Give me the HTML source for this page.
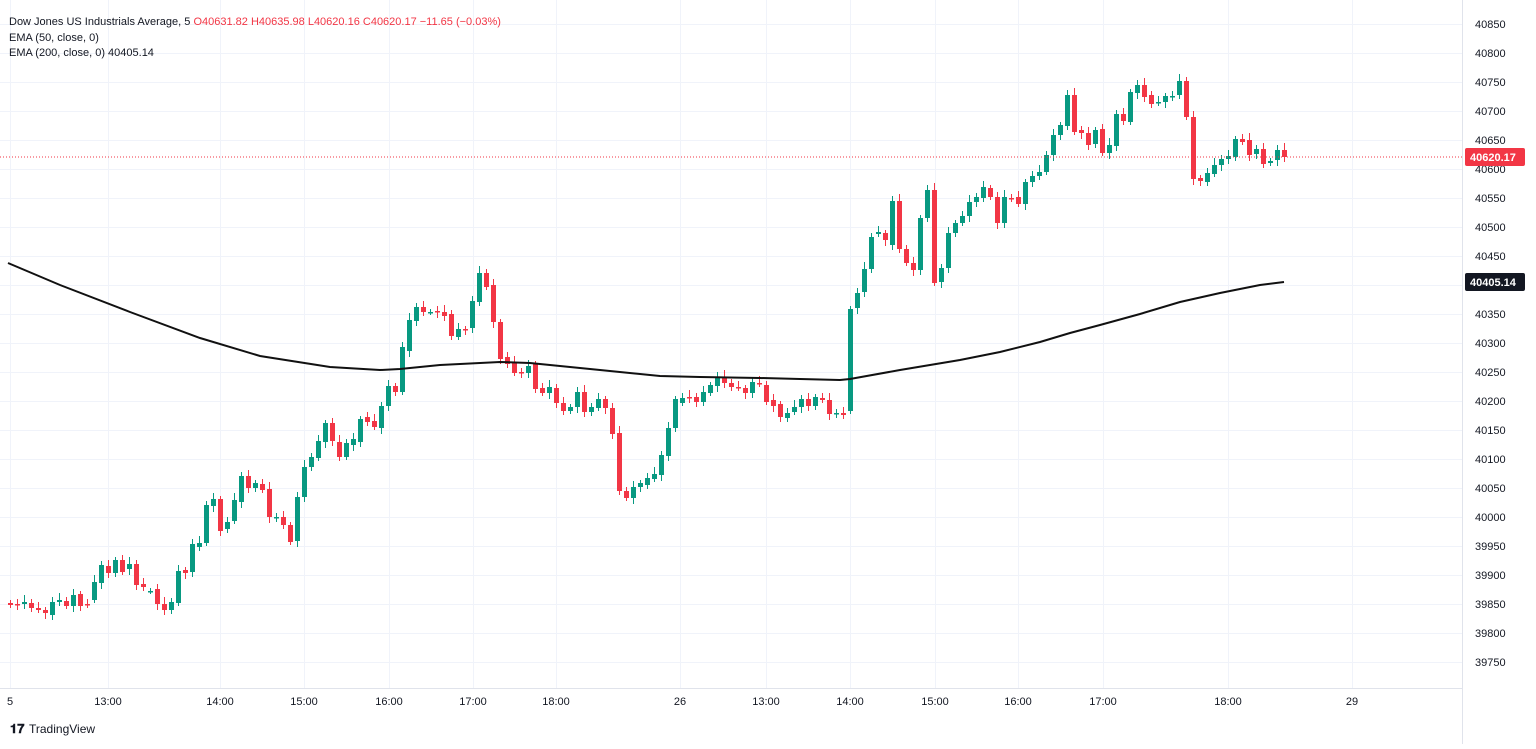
<!DOCTYPE html>
<html><head><meta charset="utf-8"><style>
body{margin:0;background:#fff;width:1536px;height:744px;overflow:hidden;font-family:"Liberation Sans",sans-serif}
svg text{font-family:"Liberation Sans",sans-serif}
</style></head><body>
<svg id="s" width="1536" height="744" xmlns="http://www.w3.org/2000/svg">
<rect width="1536" height="744" fill="#fff"/>
<g id="grid"></g>
<g id="c"></g>
<polyline fill="none" stroke="#111" stroke-width="2" points="8,263 60,285 130,312 200,338 260,356 330,367 380,370 400,369 440,365 500,362 530,363 600,370 660,376 700,377 760,378 800,379 840,380 850,379 900,370 930,365 960,360 1000,352 1040,342 1070,333 1100,325 1140,314 1180,302 1220,293 1260,285 1284,282"/>
<line x1="0" y1="157" x2="1462" y2="157" stroke="#f23645" stroke-width="1" stroke-dasharray="1,2"/>
<line x1="0" y1="688.5" x2="1462" y2="688.5" stroke="#e0e3eb"/>
<line x1="1462.5" y1="0" x2="1462.5" y2="744" stroke="#e0e3eb"/>
<g id="yl" font-size="11" fill="#131722"></g>
<g id="xl" font-size="11" fill="#131722"></g>
<rect x="1465" y="148" width="60" height="18" rx="2" fill="#f23645"/>
<text x="1470" y="161" font-size="11" fill="#fff" font-weight="bold">40620.17</text>
<rect x="1465" y="273" width="60" height="18" rx="2" fill="#131722"/>
<text x="1470" y="286" font-size="11" fill="#fff" font-weight="bold">40405.14</text>
<text x="9" y="25" font-size="11" fill="#131722">Dow Jones US Industrials Average, 5 <tspan fill="#f23645">O40631.82 H40635.98 L40620.16 C40620.17 −11.65 (−0.03%)</tspan></text>
<text x="9" y="41" font-size="11" fill="#131722">EMA (50, close, 0)</text>
<text x="9" y="56" font-size="11" fill="#131722">EMA (200, close, 0)  40405.14</text>
<text x="10" y="733" font-size="13" font-weight="bold" fill="#131722">𝟏𝟕</text>
<text x="29" y="733" font-size="12" fill="#131722">TradingView</text>
</svg>
<script>
var ns="http://www.w3.org/2000/svg";
function el(p,t,a,tx){var e=document.createElementNS(ns,t);for(var k in a)e.setAttribute(k,a[k]);if(tx)e.textContent=tx;document.getElementById(p).appendChild(e);}
for(var k=0;k<=22;k++){var y=24+29*k;el("grid","line",{x1:0,x2:1462,y1:y+.5,y2:y+.5,stroke:"#f0f3fa"});el("yl","text",{x:1475,y:y+4},String(40850-50*k));}
var xs=[[10,"5"],[108,"13:00"],[220,"14:00"],[304,"15:00"],[389,"16:00"],[473,"17:00"],[556,"18:00"],[680,"26"],[766,"13:00"],[850,"14:00"],[935,"15:00"],[1018,"16:00"],[1103,"17:00"],[1228,"18:00"],[1352,"29"]];
xs.forEach(function(a){el("grid","line",{x1:a[0]+.5,x2:a[0]+.5,y1:0,y2:688,stroke:"#f0f3fa"});el("xl","text",{x:a[0],y:705,"text-anchor":"middle"},a[1]);});
var d=[[603,605],[604,604],[604,602],[603,608],[608,610],[610,613],[615,602],[602,600],[601,606],[606,595],[594,606],[604,604],[600,582],[583,565],[566,573],[573,560],[560,572],[569,564],[564,585],[584,587],[591,591],[589,604],[604,610],[610,602],[603,571],[570,573],[572,544],[547,543],[543,505],[506,499],[499,531],[529,522],[521,500],[502,476],[476,488],[488,483],[484,490],[489,517],[517,517],[517,525],[525,542],[541,497],
[497,467],[467,457],[458,441],[442,423],[423,441],[442,457],[457,443],[445,439],[442,419],[417,422],[421,427],[428,406],[406,386],[386,392],[392,347],[351,320],[321,307],[307,312],[312,312],[311,312],[312,316],[314,336],[337,329],[329,329],[328,301],[302,273],[273,287],[285,322],[322,359],[357,364],[363,373],[372,372],[373,366],[364,389],[388,393],[393,387],[388,403],[403,411],[411,407],[407,392],[392,412],
[412,407],[408,399],[399,408],[408,434],[433,491],[491,498],[498,487],[487,483],[485,478],[479,474],[475,455],[456,428],[428,399],[403,398],[397,397],[397,402],[402,392],[393,385],[386,377],[377,383],[383,387],[387,388],[388,393],[393,382],[383,383],[385,402],[400,406],[404,417],[418,413],[412,407],[407,399],[399,406],[406,397],[398,400],[400,414],[413,413],[413,415],[411,309],[308,293],[292,269],[269,237],[234,232],
[233,240],[245,201],[201,249],[249,263],[263,270],[270,218],[218,190],[190,283],[282,268],[268,233],[233,223],[223,216],[216,202],[202,197],[198,187],[188,197],[197,223],[223,197],[198,198],[197,204],[204,182],[182,176],[176,172],[172,155],[155,135],[135,125],[126,95],[95,132],[130,133],[133,145],[144,130],[129,153],[153,145],[146,114],[114,121],[122,92],[93,85],[85,97],[95,104],[103,102],[102,96],[96,96],[95,81],[81,117],[117,179],[178,181],[182,173],[174,165],[165,159],[159,156],[157,139],[139,142],[140,155],[154,149],[149,164],[163,161],[160,150],[150,157]];
var x0=10,step=1274/(d.length-1);
d.forEach(function(c,i){var x=Math.round(x0+i*step),o=c[0],cl=c[1];var up=cl<o||(cl==o&&i%2==0);var col=up?"#089981":"#f23645";
var t=Math.min(o,cl),b=Math.max(o,cl),w=3+((i*7)%5);
el("c","line",{x1:x+.5,x2:x+.5,y1:t-w,y2:b+3+((i*3)%4),stroke:col,"stroke-width":1});
el("c","rect",{x:x-2,y:t,width:5,height:Math.max(b-t,1.5),fill:col});});
</script>
</body></html>
